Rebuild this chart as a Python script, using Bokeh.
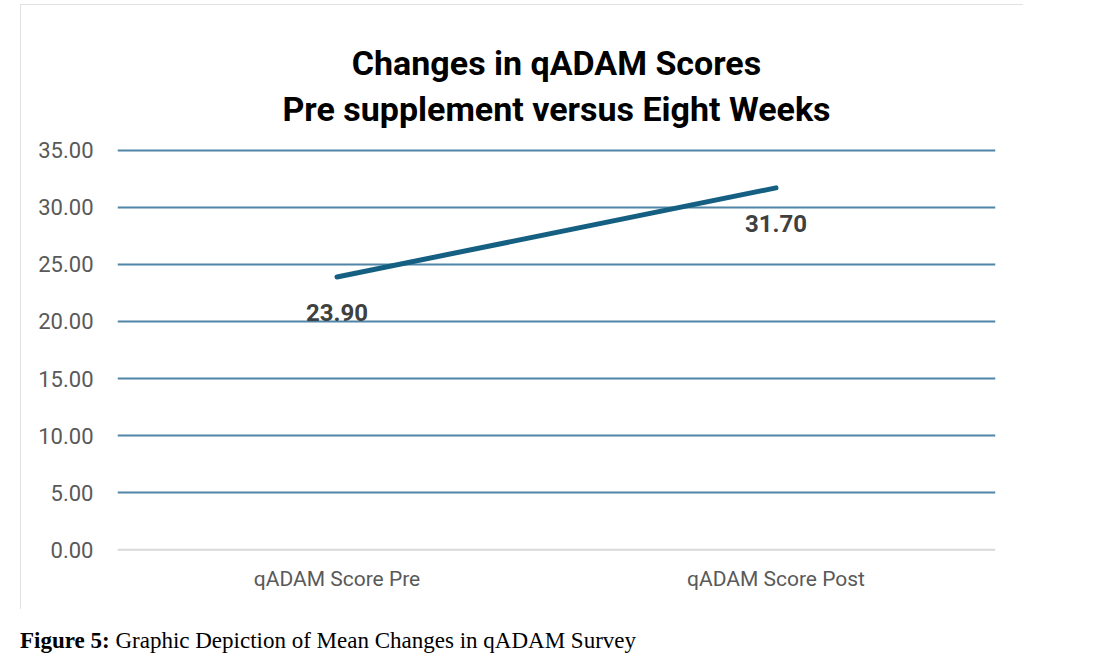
from bokeh.plotting import figure
from bokeh.models import (FixedTicker, NumeralTickFormatter, Span, Title, Div,
                          Range1d, FactorRange)
from bokeh.layouts import column
from bokeh.embed import file_html
from bokeh.resources import INLINE

# ---- data ----
categories = ["qADAM Score Pre", "qADAM Score Post"]
values = [23.90, 31.70]
y_ticks = [0, 5, 10, 15, 20, 25, 30, 35]
title_line1 = "Changes in qADAM Scores"
title_line2 = "Pre supplement versus Eight Weeks"
caption_bold = "Figure 5:"
caption_rest = "Graphic Depiction of Mean Changes in qADAM Survey"

labels = [f"{v:.2f}" for v in values]

p = figure(
    x_range=FactorRange(*categories, range_padding=0),
    y_range=Range1d(-0.5, 35.5),
    width=1003, height=605,
    output_backend="svg", toolbar_location=None,
    min_border_left=97, min_border_right=28,
    min_border_top=140, min_border_bottom=54,
    margin=(4, 0, 0, 20),
    background_fill_color="white", border_fill_color="white",
    styles={"outline": "1px solid #d9d9d9", "outline-offset": "-1px"},
)
p.outline_line_color = None

# titles (later added goes further out)
t2 = Title(text=title_line2, align="center", text_font="Roboto",
           text_font_size="34px", text_font_style="bold", text_color="#000000",
           standoff=31, offset=-5)
t1 = Title(text=title_line1, align="center", text_font="Roboto",
           text_font_size="34px", text_font_style="bold", text_color="#000000",
           standoff=-22, offset=-5)
p.add_layout(t2, "above")
p.add_layout(t1, "above")

# y axis
p.yaxis.ticker = FixedTicker(ticks=y_ticks)
p.yaxis.formatter = NumeralTickFormatter(format="0.00")
p.yaxis.axis_line_color = None
p.yaxis.major_tick_line_color = None
p.yaxis.minor_tick_line_color = None
p.yaxis.major_label_standoff = 18
p.yaxis.major_label_text_font = "Roboto"
p.yaxis.major_label_text_font_size = "22px"
p.yaxis.major_label_text_color = "#595959"

# x axis
p.xaxis.axis_line_color = None
p.xaxis.major_tick_line_color = None
p.xaxis.minor_tick_line_color = None
p.xaxis.major_label_standoff = 5
p.xaxis.major_label_text_font = "Roboto"
p.xaxis.major_label_text_font_size = "21px"
p.xaxis.major_label_text_color = "#595959"

# grids
p.xgrid.grid_line_color = None
p.ygrid.ticker = FixedTicker(ticks=[t for t in y_ticks if t != 0])
p.ygrid.grid_line_color = "#4f85a6"
p.ygrid.grid_line_width = 2
p.add_layout(Span(location=0, dimension="width", line_color="#d9d9d9",
                  line_width=2))

# series
p.line(x=categories, y=values, line_width=5, line_color="#156082",
       line_cap="round")
p.text(x=categories, y=values, text=labels, text_align="center",
       text_baseline="middle", y_offset=36, text_font_size="24px",
       text_font_style="bold", text_color="#404040",
       text_font={"value": "Roboto"})

cap = Div(
    text=f"<b>{caption_bold}</b> {caption_rest}",
    styles={"font-family": "'Liberation Serif', serif", "font-size": "23px",
            "color": "#000000", "line-height": "1.2"},
    margin=(18, 0, 0, 20),
)

layout = column(p, cap)
open("out.html", "w").write(file_html(layout, INLINE))
